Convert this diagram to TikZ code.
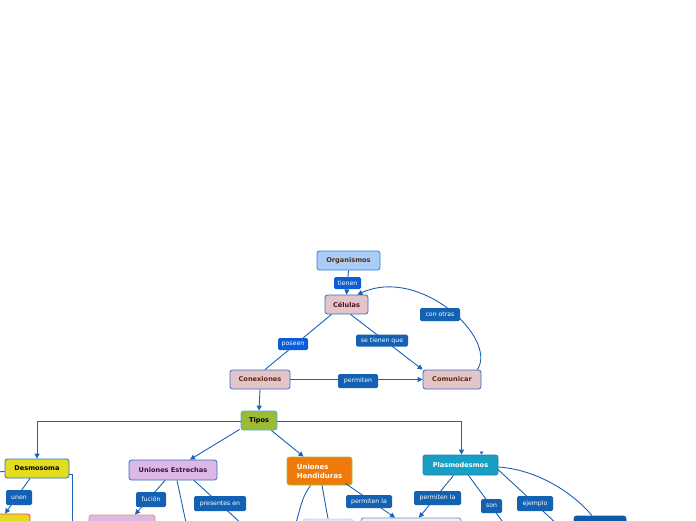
\documentclass[tikz,border=0pt]{standalone}
\usepackage{fontspec}
\newfontfamily\df{DejaVu Sans}
\usetikzlibrary{arrows.meta}
\definecolor{edge}{HTML}{1A62B8}
\definecolor{labA}{HTML}{0B5ED7}
\definecolor{labB}{HTML}{1361B3}
\definecolor{orgF}{HTML}{A9CDF7}
\definecolor{orgD}{HTML}{2F7DE0}
\definecolor{pinkF}{HTML}{E3C4C8}
\definecolor{boxD}{HTML}{3070C0}
\definecolor{brownT}{HTML}{5A2A10}
\definecolor{maroonT}{HTML}{4A1020}
\definecolor{tipF}{HTML}{9CBA36}
\definecolor{tipD}{HTML}{44B4DC}
\definecolor{yelF}{HTML}{E4DC1E}
\definecolor{lilF}{HTML}{DCB8E4}
\definecolor{lilT}{HTML}{3A1050}
\definecolor{oraF}{HTML}{EE7A0C}
\definecolor{oraD}{HTML}{9CC33A}
\definecolor{plaF}{HTML}{18A0C4}
\definecolor{plaD}{HTML}{1C80B8}
\definecolor{redD}{HTML}{EE3A6A}
\definecolor{salD}{HTML}{F08A7A}
\definecolor{p3F}{HTML}{DFE6F4}
\definecolor{p3D}{HTML}{C8D4EA}
\definecolor{p4F}{HTML}{EEF0F6}
\definecolor{p4D}{HTML}{6F8FB8}
\definecolor{p5F}{HTML}{0D5AA8}
\tikzset{
  box/.style={draw, rounded corners=2.5pt, line width=0.8pt, inner sep=0pt,
    font=\df\bfseries\fontsize{6.6}{8}\selectfont, align=center},
  lab/.style={fill=labB, text=white, rounded corners=1.5pt, inner sep=0pt,
    minimum height=13pt, font=\df\fontsize{6.2}{7}\selectfont},
  conn/.style={draw=edge, line width=0.9pt},
  arr/.style={conn, -{Triangle[width=5pt,length=5pt]}}
}
\begin{document}
\begin{tikzpicture}[x=1pt,y=-1pt]
\useasboundingbox (0,0) rectangle (696,520);
\clip (0,0) rectangle (696,520);
% boxes
\node[box, fill=orgF, draw=orgD, text=brownT, minimum width=63pt, minimum height=19pt] (org) at (348.5,260.5) {Organismos};
\node[box, fill=pinkF, draw=boxD, text=maroonT, minimum width=43pt, minimum height=19pt] (cel) at (346.5,304.5) {Células};
\node[box, fill=pinkF, draw=boxD, text=brownT, minimum width=60pt, minimum height=19pt] (conx) at (260,379.5) {Conexiones};
\node[box, fill=pinkF, draw=boxD, text=brownT, minimum width=58pt, minimum height=19pt] (com) at (452,379.5) {Comunicar};
\node[box, fill=tipF, draw=tipD, text=black, minimum width=36pt, minimum height=19pt] (tipos) at (259,420.5) {Tipos};
\node[box, fill=yelF, draw=boxD, text=black, minimum width=64pt, minimum height=19pt] (desmo) at (37,468.5) {Desmosoma};
\node[box, fill=lilF, draw=boxD, text=lilT, minimum width=88pt, minimum height=20pt] (estr) at (173,470) {Uniones Estrechas};
\node[box, fill=oraF, draw=oraD, text=white, minimum width=65pt, minimum height=28pt, align=left, font=\df\bfseries\fontsize{7}{9}\selectfont] (hend) at (319.5,471) {Uniones\\Hendiduras};
\node[box, fill=plaF, draw=plaD, text=white, minimum width=75pt, minimum height=20pt] (plasmo) at (460.5,465) {Plasmodesmos};
% partial boxes at the bottom edge
\node[box, fill=yelF, draw=redD, minimum width=44pt, minimum height=28pt] (p1) at (8,528) {};
\node[box, fill=lilF, draw=salD, minimum width=66pt, minimum height=30pt] (p2) at (122,530) {};
\node[box, fill=p3F, draw=p3D, minimum width=50pt, minimum height=26pt] (p3) at (328,532) {};
\node[box, fill=p4F, draw=p4D, minimum width=100pt, minimum height=28pt] (p4) at (411,532) {};
\node[box, fill=p5F, draw=p5F, minimum width=52pt, minimum height=28pt] (p5) at (600,530) {};
% free ends
\coordinate (d0) at (-5,472);
\coordinate (d1) at (72,525);
\coordinate (e1) at (186.5,525);
\coordinate (e2) at (243,525);
\coordinate (h1) at (295.5,525);
\coordinate (s1) at (505,525);
\coordinate (j1) at (558,525);
\coordinate (k0) at (481.5,452);
% connectors
\draw[arr] (org.south) -- (cel.north);
\draw[arr] ([xshift=-4]com.north east) .. controls (498,338) and (420,266) .. ([xshift=-11]cel.north east);
\draw[arr] ([xshift=4]cel.south) -- (com.north west);
\draw[conn] ([xshift=-15]cel.south) -- ([xshift=5]conx.north);
\draw[arr] (conx.east) -- (com.west);
\draw[arr] (conx.south) -- (tipos.north);
\draw[arr] ([yshift=-1]tipos.west) -| (desmo.north);
\draw[arr] ([yshift=-1]tipos.east) -| ([xshift=1]plasmo.north);
\draw[arr] ([xshift=-1,yshift=1]tipos.south west) -- ([xshift=17]estr.north);
\draw[arr] ([xshift=-6]tipos.south east) -- ([xshift=-16]hend.north);
\draw[arr] ([xshift=-7]desmo.south) -- ([xshift=-3]p1.north);
\draw[conn] ([yshift=-6]desmo.east) -| (d1);
\draw[conn] ([yshift=-3]desmo.west) -- (d0);
\draw[arr] ([xshift=-8]estr.south) -- ([xshift=13]p2.north);
\draw[conn] ([xshift=4]estr.south) -- (e1);
\draw[conn] ([xshift=21]estr.south) -- (e2);
\draw[conn] ([xshift=-9]hend.south) .. controls (303,497) .. (h1);
\draw[conn] ([xshift=2.5]hend.south) -- (p3.north);
\draw[arr] ([xshift=-7,yshift=2]hend.south east) -- ([xshift=-16]p4.north);
\draw[arr] ([xshift=-7]plasmo.south) -- ([xshift=8]p4.north);
\draw[conn] ([xshift=8]plasmo.south) -- (s1);
\draw[conn] ([xshift=-1,yshift=-4]plasmo.east) -- (j1);
\draw[conn] ([yshift=-2]plasmo.east) .. controls (540,470) and (575,495) .. ([xshift=-8]p5.north);
\draw[conn, -{Triangle[width=3.5pt,length=3pt]}] (k0) -- ([xshift=21]plasmo.north);
% labels
\node[lab, fill=labA, minimum width=27pt, minimum height=12pt] (l1) at (347.5,283) {tienen};
\node[lab, fill=labA, minimum width=30pt, minimum height=12pt] (l2) at (293,344) {poseen};
\node[lab, minimum width=52pt, minimum height=12pt] (l3) at (382,340.5) {se tienen que};
\node[lab, minimum width=40pt] (l4) at (440,314.5) {con otras};
\node[lab, minimum width=40pt, minimum height=14pt] (l5) at (358,381) {permiten};
\node[lab, minimum width=26pt, minimum height=15pt] (l6) at (19,497.5) {unen};
\node[lab, minimum width=30pt, minimum height=15pt] (l7) at (151,499.5) {fución};
\node[lab, minimum width=52pt, minimum height=15pt] (l8) at (220,503.5) {presentes en};
\node[lab, minimum width=46pt] (l9) at (369,501.5) {permiten la};
\node[lab, minimum width=47pt, minimum height=14pt] (l10) at (437.5,498) {permiten la};
\node[lab, minimum width=21pt, minimum height=14pt] (l11) at (491.5,506) {son};
\node[lab, minimum width=36pt, minimum height=15pt] (l12) at (535,503.5) {ejemplo};
\end{tikzpicture}
\end{document}
